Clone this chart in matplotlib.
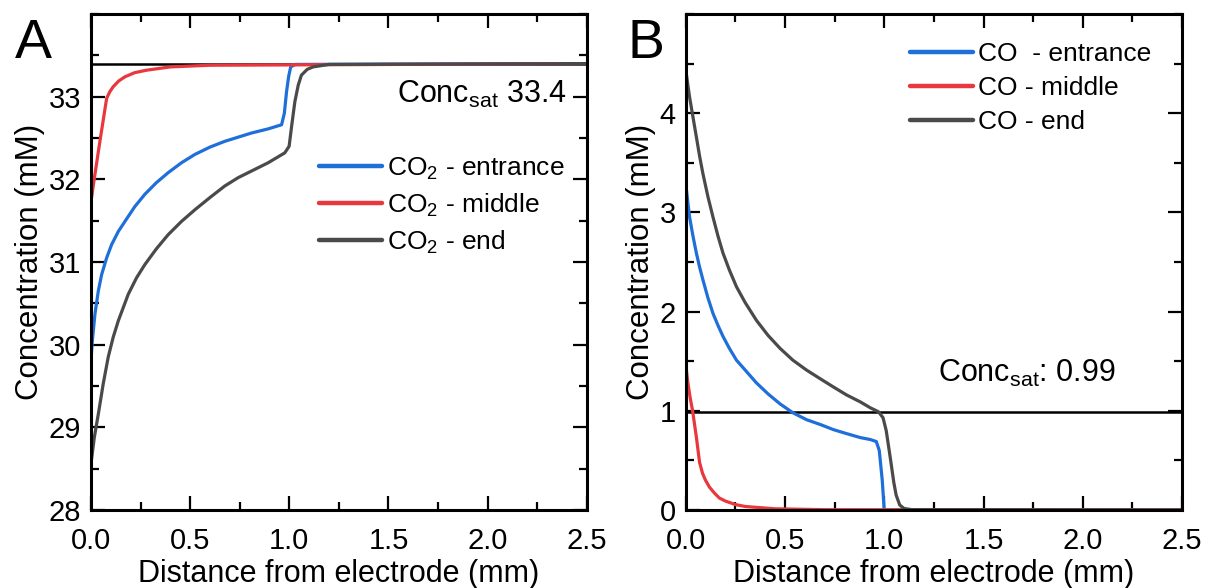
import matplotlib
matplotlib.use("Agg")
import matplotlib.pyplot as plt
import matplotlib.ticker as ticker

plt.rcParams['font.family'] = ['Liberation Sans', 'DejaVu Sans']
plt.rcParams['mathtext.fontset'] = 'custom'
plt.rcParams['mathtext.rm'] = 'Liberation Sans'
plt.rcParams['mathtext.it'] = 'Liberation Sans'
plt.rcParams['mathtext.default'] = 'regular'

# panel A: CO2 concentration (mM) vs distance (mm)
xa_entr = [0, 0.007, 0.02, 0.037, 0.054, 0.079, 0.104, 0.138, 0.171, 0.221, 0.272, 0.33, 0.389, 0.456, 0.523,
           0.6, 0.675, 0.742, 0.809, 0.893, 0.961, 0.975, 0.986, 0.997, 1.007, 1.03, 2.5]
ya_entr = [29.81, 30.05, 30.37, 30.65, 30.85, 31.05, 31.21, 31.37, 31.49, 31.67, 31.82, 31.96, 32.08, 32.2, 32.30,
           32.39, 32.46, 32.51, 32.56, 32.61, 32.66, 32.8, 33.06, 33.25, 33.36, 33.39, 33.4]
xa_mid = [0, 0.015, 0.045, 0.079, 0.095, 0.112, 0.14, 0.171, 0.22, 0.28, 0.4, 0.6, 2.5]
ya_mid = [31.73, 31.98, 32.46, 32.98, 33.06, 33.12, 33.19, 33.24, 33.29, 33.32, 33.36, 33.38, 33.4]
xa_end = [0, 0.017, 0.037, 0.062, 0.087, 0.112, 0.138, 0.188, 0.23, 0.272, 0.33, 0.389, 0.456, 0.523, 0.6,
          0.675, 0.742, 0.809, 0.893, 0.977, 0.999, 1.012, 1.028, 1.045, 1.061, 1.09, 1.12, 1.2, 2.5]
ya_end = [28.56, 28.88, 29.16, 29.53, 29.85, 30.09, 30.29, 30.61, 30.81, 30.97, 31.16, 31.33, 31.49, 31.63, 31.78,
          31.92, 32.02, 32.10, 32.2, 32.32, 32.40, 32.65, 32.94, 33.14, 33.26, 33.33, 33.36, 33.39, 33.4]
sat_a = 33.4

# panel B: CO concentration (mM) vs distance (mm)
xb_entr = [0, 0.01, 0.02, 0.037, 0.054, 0.07, 0.087, 0.112, 0.138, 0.163, 0.188, 0.22, 0.256, 0.3, 0.357, 0.415,
           0.475, 0.54, 0.609, 0.68, 0.744, 0.81, 0.879, 0.93, 0.96, 0.975, 0.99, 1.0, 2.5]
yb_entr = [3.3, 3.12, 2.95, 2.76, 2.59, 2.45, 2.32, 2.14, 1.98, 1.86, 1.75, 1.63, 1.51, 1.41, 1.28, 1.17,
           1.07, 0.98, 0.91, 0.86, 0.81, 0.77, 0.73, 0.71, 0.69, 0.6, 0.3, 0.0, 0.0]
xb_mid = [0, 0.01, 0.022, 0.035, 0.045, 0.055, 0.07, 0.085, 0.1, 0.12, 0.145, 0.17, 0.2, 0.25, 0.3, 0.45, 0.7, 2.5]
yb_mid = [1.48, 1.3, 1.14, 1.0, 0.86, 0.72, 0.48, 0.37, 0.3, 0.23, 0.17, 0.12, 0.09, 0.055, 0.035, 0.012, 0.003, 0]
xb_end = [0, 0.01, 0.02, 0.037, 0.054, 0.07, 0.087, 0.112, 0.138, 0.163, 0.188, 0.22, 0.256, 0.3, 0.357, 0.415,
          0.475, 0.54, 0.609, 0.68, 0.744, 0.81, 0.879, 0.93, 0.971, 0.994, 1.01, 1.025, 1.036, 1.048, 1.06,
          1.078, 1.1, 1.14, 2.5]
yb_end = [4.45, 4.3, 4.16, 3.96, 3.76, 3.57, 3.39, 3.16, 2.95, 2.76, 2.59, 2.42, 2.25, 2.09, 1.91, 1.76,
          1.63, 1.51, 1.41, 1.32, 1.24, 1.16, 1.09, 1.03, 0.99, 0.93, 0.8, 0.6, 0.45, 0.28, 0.15,
          0.05, 0.015, 0.003, 0]
sat_b = 0.99

labels_a = ['CO$_2$ - entrance', 'CO$_2$ - middle', 'CO$_2$ - end']
labels_b = ['CO  - entrance', 'CO - middle', 'CO - end']
colors = ['#1E6FD9', '#E8383D', '#4A4A4A']

fig = plt.figure(figsize=(12.05, 5.88), dpi=100)
axA = fig.add_axes([0.0755, 0.1327, 0.4115, 0.8435])
axB = fig.add_axes([0.569, 0.1327, 0.412, 0.8435])

for ax in (axA, axB):
    ax.set_xlim(0, 2.5)
    ax.xaxis.set_major_locator(ticker.MultipleLocator(0.5))
    ax.xaxis.set_minor_locator(ticker.MultipleLocator(0.25))
    ax.xaxis.set_major_formatter(ticker.FormatStrFormatter('%.1f'))
    ax.yaxis.set_minor_locator(ticker.MultipleLocator(0.5))
    ax.tick_params(which='both', direction='in', top=True, right=True, width=1.6)
    ax.tick_params(which='major', length=10, labelsize=21, pad=7)
    ax.tick_params(axis='x', which='major', pad=12)
    ax.tick_params(which='minor', length=5.5)
    for s in ax.spines.values():
        s.set_linewidth(2.2)
    ax.set_xlabel('Distance from electrode (mm)', fontsize=22, labelpad=3)
    ax.set_ylabel('Concentration (mM)', fontsize=22.5, labelpad=3)

# panel A
axA.axhline(sat_a, color='black', lw=1.8, zorder=1.5)
axA.plot(xa_entr, ya_entr, color=colors[0], lw=2.3, label=labels_a[0])
axA.plot(xa_mid, ya_mid, color=colors[1], lw=2.3, label=labels_a[1])
axA.plot(xa_end, ya_end, color=colors[2], lw=2.3, label=labels_a[2])
axA.set_ylim(28, 34)
axA.yaxis.set_major_locator(ticker.FixedLocator([28, 29, 30, 31, 32, 33]))
axA.text(2.4, 32.92, 'Conc$_{sat}$ 33.4', fontsize=22, ha='right', va='baseline')
legA = axA.legend(loc='upper left', bbox_to_anchor=(0.438, 0.736), fontsize=19, frameon=False,
                  handlelength=2.4, handletextpad=0.2, labelspacing=0.37, borderaxespad=0)

# panel B
axB.axhline(sat_b, color='black', lw=1.8, zorder=1.5)
axB.plot(xb_entr, yb_entr, color=colors[0], lw=2.3, label=labels_b[0])
axB.plot(xb_mid, yb_mid, color=colors[1], lw=2.3, label=labels_b[1])
axB.plot(xb_end, yb_end, color=colors[2], lw=2.3, label=labels_b[2])
axB.set_ylim(0, 5)
axB.yaxis.set_major_locator(ticker.FixedLocator([0, 1, 2, 3, 4]))
axB.text(1.27, 1.29, 'Conc$_{sat}$: 0.99', fontsize=22, ha='left', va='baseline')
legB = axB.legend(loc='upper left', bbox_to_anchor=(0.43, 0.964), fontsize=19, frameon=False,
                  handlelength=2.4, handletextpad=0.2, labelspacing=0.37, borderaxespad=0)

# thicker rounded legend handles, as in the original
for leg in (legA, legB):
    for ln in leg.get_lines():
        ln.set_linewidth(3.2)
        ln.set_solid_capstyle('round')

fig.text(0.012, 0.901, 'A', fontsize=40, ha='left', va='baseline')
fig.text(0.521, 0.901, 'B', fontsize=40, ha='left', va='baseline')

plt.savefig('out.png', dpi=100)
